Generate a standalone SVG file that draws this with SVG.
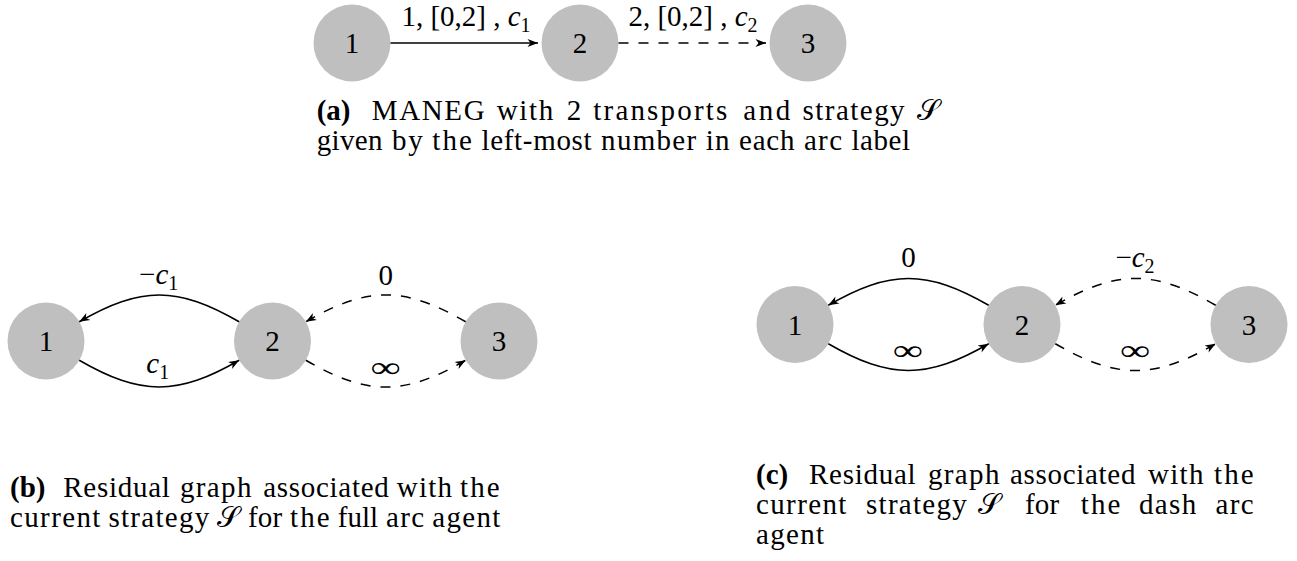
<svg xmlns="http://www.w3.org/2000/svg" width="1297" height="561" viewBox="0 0 1297 561">
  <style>
    .nd { fill: #bfbfbf; }
    .t { font-family: "Liberation Serif", "Times New Roman", serif; font-size: 29px; fill: #000; }
    .num { text-anchor: middle; }
    .mid { text-anchor: middle; }
    .it { font-style: italic; }
    .sub { font-size: 20px; }
    .bf { font-weight: bold; }
    .edge { fill: none; stroke: #000; stroke-width: 1.5; }
    .dash { stroke-dasharray: 10 10; }
  </style>
  <defs>
    <marker id="tip" viewBox="-11 -5 12 10" markerWidth="12" markerHeight="10" refX="0" refY="0" orient="auto" markerUnits="userSpaceOnUse">
      <path d="M0,0 L-10.5,-4 L-7.5,0 L-10.5,4 Z" fill="#000"/>
    </marker>
  </defs>

  <!-- (a) MANEG -->
  <g id="a-n1"><circle class="nd" cx="352" cy="43" r="38.5"/><text class="t num" x="352" y="53">1</text></g>
  <g id="a-n2"><circle class="nd" cx="580" cy="43" r="38.5"/><text class="t num" x="580" y="53">2</text></g>
  <g id="a-n3"><circle class="nd" cx="808" cy="43" r="38.5"/><text class="t num" x="808" y="53">3</text></g>

  <!-- (b) residual graph, full arc agent -->
  <g id="b-n1"><circle class="nd" cx="46" cy="341" r="38.5"/><text class="t num" x="46" y="351">1</text></g>
  <g id="b-n2"><circle class="nd" cx="272.5" cy="341" r="38.5"/><text class="t num" x="272.5" y="351">2</text></g>
  <g id="b-n3"><circle class="nd" cx="499" cy="341" r="38.5"/><text class="t num" x="499" y="351">3</text></g>

  <!-- (c) residual graph, dash arc agent -->
  <g id="c-n1"><circle class="nd" cx="795" cy="324.5" r="38.5"/><text class="t num" x="795" y="334.5">1</text></g>
  <g id="c-n2"><circle class="nd" cx="1022" cy="324.5" r="38.5"/><text class="t num" x="1022" y="334.5">2</text></g>
  <g id="c-n3"><circle class="nd" cx="1249" cy="324.5" r="38.5"/><text class="t num" x="1249" y="334.5">3</text></g>

  <g id="connectors">
    <!-- (a) -->
    <path class="edge" d="M390.5,43 L538,43" marker-end="url(#tip)"/>
    <path class="edge dash" d="M618.5,43 L766,43" marker-end="url(#tip)"/>
    <!-- (b) -->
    <path class="edge" d="M239.16,321.75 C177.46,286.05 140.94,286.05 79.24,321.75" marker-end="url(#tip)"/>
    <path class="edge" d="M79.24,360.25 C140.94,395.95 177.46,395.95 239.16,360.25" marker-end="url(#tip)"/>
    <path class="edge dash" d="M465.66,321.75 C403.96,286.05 367.54,286.05 305.84,321.75" marker-end="url(#tip)"/>
    <path class="edge dash" d="M305.84,360.25 C367.54,395.95 403.96,395.95 465.66,360.25" marker-end="url(#tip)"/>
    <!-- (c) -->
    <path class="edge" d="M988.66,305.25 C926.96,269.55 890.04,269.55 828.34,305.25" marker-end="url(#tip)"/>
    <path class="edge" d="M828.34,343.75 C890.04,379.45 926.96,379.45 988.66,343.75" marker-end="url(#tip)"/>
    <path class="edge dash" d="M1215.66,305.25 C1153.96,269.55 1117.04,269.55 1055.34,305.25" marker-end="url(#tip)"/>
    <path class="edge dash" d="M1055.34,343.75 C1117.04,379.45 1153.96,379.45 1215.66,343.75" marker-end="url(#tip)"/>
  </g>

  <g id="edge-labels">
    <text class="t mid" x="466" y="25.5">1, [0,2] , <tspan class="it">c</tspan><tspan class="sub" dy="6">1</tspan></text>
    <text class="t mid" x="693" y="25.5">2, [0,2] , <tspan class="it">c</tspan><tspan class="sub" dy="6">2</tspan></text>

    <text class="t mid" x="158.7" y="283.5">−<tspan class="it">c</tspan><tspan class="sub" dy="6">1</tspan></text>
    <text class="t mid" x="157.7" y="372.5"><tspan class="it">c</tspan><tspan class="sub" dy="6">1</tspan></text>
    <text class="t mid" x="385.7" y="284.5">0</text>
    <text class="t mid" x="385.5" y="376.5" textLength="30" lengthAdjust="spacingAndGlyphs">∞</text>

    <text class="t mid" x="908.5" y="267">0</text>
    <text class="t mid" x="1135" y="267">−<tspan class="it">c</tspan><tspan class="sub" dy="6">2</tspan></text>
    <text class="t mid" x="907.7" y="359.6" textLength="30" lengthAdjust="spacingAndGlyphs">∞</text>
    <text class="t mid" x="1135" y="359.6" textLength="30" lengthAdjust="spacingAndGlyphs">∞</text>
  </g>

  <!-- captions: one text per word, each word set to its typeset width -->
  <g id="caption-a">
    <text class="t bf" x="316.7" y="119.5">(a)</text>
    <text class="t" x="371.7" y="119.5" textLength="113">MANEG</text>
    <text class="t" x="496.7" y="119.5" textLength="56.5">with</text>
    <text class="t" x="566.7" y="119.5">2</text>
    <text class="t" x="593.3" y="119.5" textLength="134">transports</text>
    <text class="t" x="743.3" y="119.5" textLength="47">and</text>
    <text class="t" x="802.6" y="119.5" textLength="102">strategy</text>
    <text class="t" x="916.7" y="119.5">𝒮</text>
    <text class="t" x="316.7" y="149.5" textLength="65.7">given</text>
    <text class="t" x="391.9" y="149.5" textLength="30.9">by</text>
    <text class="t" x="432.3" y="149.5" textLength="39.6">the</text>
    <text class="t" x="481.4" y="149.5" textLength="110.2">left-most</text>
    <text class="t" x="601.1" y="149.5" textLength="95.1">number</text>
    <text class="t" x="705.7" y="149.5" textLength="23.8">in</text>
    <text class="t" x="739" y="149.5" textLength="55.4">each</text>
    <text class="t" x="803.9" y="149.5" textLength="38.1">arc</text>
    <text class="t" x="851.5" y="149.5" textLength="58.6">label</text>
  </g>

  <g id="caption-b">
    <text class="t bf" x="10" y="497">(b)</text>
    <text class="t" x="63.3" y="497" textLength="106.6">Residual</text>
    <text class="t" x="180" y="497" textLength="71.4">graph</text>
    <text class="t" x="263.3" y="497" textLength="125.4">associated</text>
    <text class="t" x="396.7" y="497" textLength="55.4">with</text>
    <text class="t" x="460" y="497" textLength="39.6">the</text>
    <text class="t" x="10" y="527" textLength="90.4">current</text>
    <text class="t" x="108.4" y="527" textLength="100.8">strategy</text>
    <text class="t" x="217.2" y="527">𝒮</text>
    <text class="t" x="248" y="527" textLength="34.1">for</text>
    <text class="t" x="290.1" y="527" textLength="39.6">the</text>
    <text class="t" x="337.7" y="527" textLength="40.4">full</text>
    <text class="t" x="386.1" y="527" textLength="38.1">arc</text>
    <text class="t" x="432.2" y="527" textLength="68.1">agent</text>
  </g>

  <g id="caption-c">
    <text class="t bf" x="756" y="484">(c)</text>
    <text class="t" x="809" y="484" textLength="106.6">Residual</text>
    <text class="t" x="928" y="484" textLength="71.4">graph</text>
    <text class="t" x="1010" y="484" textLength="125.4">associated</text>
    <text class="t" x="1148" y="484" textLength="55.4">with</text>
    <text class="t" x="1214" y="484" textLength="39.6">the</text>
    <text class="t" x="756" y="514" textLength="90.4">current</text>
    <text class="t" x="866" y="514" textLength="100.8">strategy</text>
    <text class="t" x="978" y="514">𝒮</text>
    <text class="t" x="1025" y="514" textLength="34.1">for</text>
    <text class="t" x="1080.8" y="514" textLength="39.6">the</text>
    <text class="t" x="1139" y="514" textLength="57.2">dash</text>
    <text class="t" x="1215.5" y="514" textLength="38.1">arc</text>
    <text class="t" x="756" y="544" textLength="68.1">agent</text>
  </g>
</svg>
